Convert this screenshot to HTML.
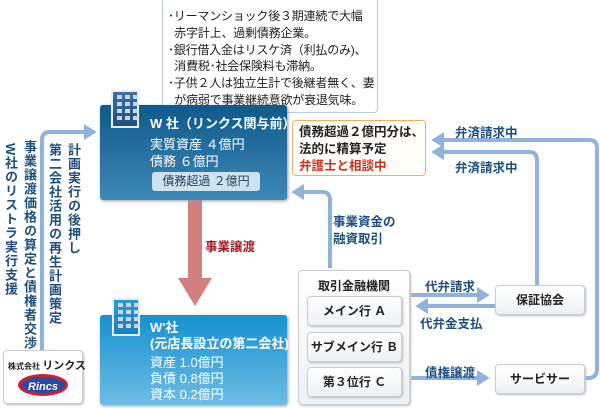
<!DOCTYPE html>
<html><head><meta charset="utf-8"><style>
*{margin:0;padding:0;box-sizing:border-box}
body{width:600px;height:408px;position:relative;background:#fff;font-family:"Liberation Sans","Noto Sans CJK JP",sans-serif;overflow:hidden;color:#222}
.a{position:absolute}
.v{position:absolute;writing-mode:vertical-rl;font-size:13px;font-weight:bold;color:#1f4f80;line-height:14px;letter-spacing:1px;white-space:nowrap}
.bl{color:#1f4f80;font-weight:bold;font-size:12.5px;white-space:nowrap}
.sb{position:absolute;background:linear-gradient(#fff,#eef1f4);border:1px solid #c9ced4;border-radius:4px;font-size:12px;font-weight:bold;text-align:center;box-shadow:1px 1px 2px #bbb}
.icon{position:absolute;width:28px;height:38px;background:linear-gradient(#3d6f9e,#1e4f7d);border:2px solid #e8eef5;display:grid;grid-template-columns:repeat(3,5px);gap:3px;padding:3px 4px;align-content:start}
.icon i{display:block;width:5px;height:4px;background:#c8d6e6}
</style></head><body>
<svg class="a" style="left:0;top:0" width="600" height="408">
<defs><marker id="m" markerWidth="4" markerHeight="4" refX="2" refY="2" orient="auto" markerUnits="strokeWidth"><path d="M0,0L3.2,2L0,4z" fill="#8fb3dc"/></marker></defs>
<g fill="none" stroke="#8fb3dc" stroke-width="4">
<path d="M42,350V140q0,-8 8,-8H92" marker-end="url(#m)"/>
<path d="M330,268V200q0,-8 -8,-8H296" marker-end="url(#m)"/>
<path d="M578,378H588q9,0 9,-9V148q0,-8 -8,-8H436" marker-end="url(#m)"/>
<path d="M537,290V160q0,-8 -8,-8H436" marker-end="url(#m)"/>
<path d="M411,295H485" marker-end="url(#m)"/>
<path d="M495,306H420" marker-end="url(#m)"/>
<path d="M411,378H485" marker-end="url(#m)"/>
</g>
<rect x="188" y="200" width="14" height="80" fill="#d27f7f"/>
<path d="M178,278H212L195,306z" fill="#d27f7f"/>
</svg>

<div class="v" style="left:3px;top:143px">W社のリストラ実行支援</div>
<div class="v" style="left:22px;top:140px">事業譲渡価格の算定と債権者交渉</div>
<div class="v" style="left:47px;top:143px">第二会社活用の再生計画策定</div>
<div class="v" style="left:66px;top:143px">計画実行の後押し</div>

<div class="a" style="left:162px;top:0;width:216px;height:113px;border:1px solid #b8cce4;border-top:none;border-radius:0 0 4px 4px;font-size:12px;line-height:16.8px;padding:8px 0 0 5px;background:#fff;white-space:nowrap;letter-spacing:-0.2px">･リーマンショック後３期連続で大幅<br>&nbsp;&nbsp;赤字計上、過剰債務企業。<br>･銀行借入金はリスケ済（利払のみ)、<br>&nbsp;&nbsp;消費税･社会保険料も滞納。<br>･子供２人は独立生計で後継者無く、妻<br>&nbsp;&nbsp;が病弱で事業継続意欲が衰退気味。</div>

<div class="a" style="left:100px;top:105px;width:187px;height:95px;background:linear-gradient(#0f5a8c,#3d88b6);border-radius:3px;box-shadow:1px 1px 3px #999;color:#fff">
<div class="a" style="left:50px;top:8px;font-size:13px;font-weight:bold;white-space:nowrap">W 社（リンクス関与前）</div>
<div class="a" style="left:50px;top:31px;font-size:13px;white-space:nowrap;line-height:17px">実質資産 ４億円<br>債務 ６億円</div>
<div class="a" style="left:52px;top:67px;width:108px;height:19px;background:#cfe2ef;border-radius:3px;color:#1f3f5f;font-size:12px;text-align:center;line-height:19px">債務超過 ２億円</div>
</div>
<div class="icon" style="left:111px;top:90px"><i></i><i></i><i></i><i></i><i></i><i></i><i></i><i></i><i></i><i></i><i></i><i></i></div>

<div class="a" style="left:292px;top:120px;width:134px;height:56px;border:1px solid #f0b060;border-radius:4px;background:#fffdf7;font-size:12.5px;font-weight:bold;line-height:17px;padding:3px 0 0 6px;white-space:nowrap">債務超過２億円分は、<br>法的に精算予定<br><span style="color:#c8321e">弁護士と相談中</span></div>

<div class="a bl" style="left:455px;top:122px">弁済請求中</div>
<div class="a bl" style="left:455px;top:157px">弁済請求中</div>
<div class="a bl" style="left:333px;top:214px;line-height:17px">事業資金の<br>融資取引</div>
<div class="a bl" style="left:205px;top:236px;color:#a02020">事業譲渡</div>

<div class="a" style="left:100px;top:315px;width:187px;height:90px;background:linear-gradient(#1790cf,#6ebde6);border-radius:3px;box-shadow:1px 1px 3px #999;color:#fff">
<div class="a" style="left:50px;top:5px;font-size:13px;font-weight:bold;white-space:nowrap;line-height:16px">W'社<br>(元店長設立の第二会社)</div>
<div class="a" style="left:50px;top:40px;font-size:13px;white-space:nowrap;line-height:16px">資産 1.0億円<br>負債 0.8億円<br>資本 0.2億円</div>
</div>
<div class="icon" style="left:112px;top:298px;background:linear-gradient(#2b9ad4,#1780c0)"><i></i><i></i><i></i><i></i><i></i><i></i><i></i><i></i><i></i><i></i><i></i><i></i></div>

<div class="a" style="left:298px;top:270px;width:112px;height:135px;background:linear-gradient(#fff,#eef1f4);border:1px solid #c9ced4;border-radius:4px;box-shadow:1px 1px 2px #bbb;font-size:12px;font-weight:bold;text-align:center;padding-top:6px">取引金融機関</div>
<div class="sb" style="left:307px;top:296px;width:95px;height:30px;line-height:28px">メイン行 Ａ</div>
<div class="sb" style="left:307px;top:332px;width:95px;height:30px;line-height:28px">サブメイン行 Ｂ</div>
<div class="sb" style="left:307px;top:367px;width:95px;height:30px;line-height:28px">第３位行 Ｃ</div>

<div class="a bl" style="left:425px;top:276px">代弁請求</div>
<div class="a bl" style="left:420px;top:313px">代弁金支払</div>
<div class="a bl" style="left:425px;top:362px">債権譲渡</div>

<div class="sb" style="left:495px;top:285px;width:90px;height:30px;line-height:28px">保証協会</div>
<div class="sb" style="left:495px;top:364px;width:90px;height:30px;line-height:28px">サービサー</div>

<div class="a" style="left:3px;top:350px;width:80px;height:54px;border:1px solid #c9ced4;border-radius:4px;background:#fff;box-shadow:1px 1px 2px #bbb">
<div class="a" style="left:4px;top:6px;font-size:8px;font-weight:bold;white-space:nowrap">株式会社 <span style="font-size:11px">リンクス</span></div>
<div class="a" style="left:14px;top:23px;width:50px;height:22px;border-radius:50%;background:#2a4aa8;border:3px solid #d02030"></div>
<div class="a" style="left:24px;top:30px;font-size:11px;font-style:italic;font-weight:bold;color:#fff">Rincs</div>
</div>
</body></html>
